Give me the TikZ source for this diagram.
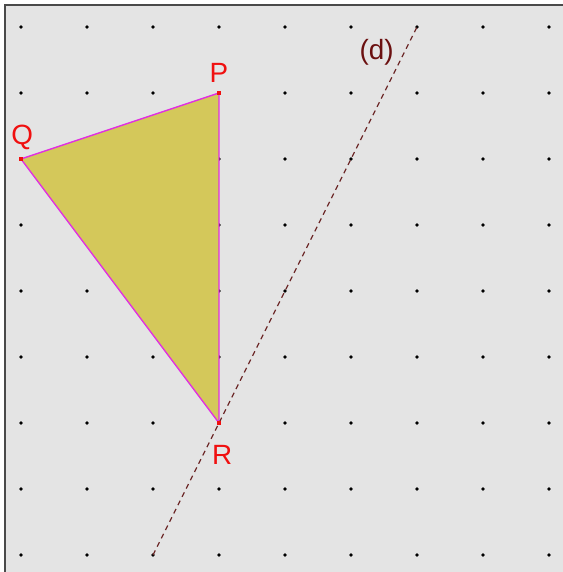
\documentclass[tikz,border=0pt]{standalone}
\usepackage{fontspec}
\setmainfont{Liberation Sans}
\usepackage{xcolor}
\definecolor{panel-bg}{HTML}{E4E4E4}
\definecolor{frame-gray}{HTML}{4A4A4A}
\definecolor{tri-fill}{HTML}{D4C85A}
\definecolor{tri-edge}{HTML}{E030E0}
\definecolor{line-d}{HTML}{6E2A2A}
\definecolor{lbl-red}{HTML}{F01010}
\definecolor{lbl-d}{HTML}{6B1010}

\begin{document}
\begin{tikzpicture}[every node/.style={font=\fontsize{12}{14}\selectfont}]
    % page and panel
    \useasboundingbox (-0.318, -0.258) rectangle (8.212, 8.409);
    \fill[white] (-0.318, -0.258) rectangle (8.212, 8.409);
    \fill[panel-bg] (-0.242, -0.258) rectangle (8.212, 8.333);
    \draw[frame-gray, line width=0.9pt] (-0.242, -0.258) -- (-0.242, 8.333) -- (8.212, 8.333);
    % grid dots
    \foreach \i in {0,...,8}
      \foreach \j in {0,...,8}
        \fill[black] (\i, \j) circle (0.028);
    % triangle PQR
    \coordinate (P) at (3, 7);
    \coordinate (Q) at (0, 6);
    \coordinate (R) at (3, 2);
    \fill[tri-fill] (P) -- (Q) -- (R) -- cycle;
    \draw[tri-edge, line width=0.6pt] (P) -- (Q) -- (R) -- cycle;
    % line (d)
    \coordinate (d1) at (2, 0);
    \coordinate (d2) at (6, 8);
    \draw[line-d, line width=0.55pt, dash pattern=on 2.2pt off 1.8pt] (d1) -- (d2);
    \node[fill=lbl-red, inner sep=0pt, minimum size=2pt] (Pmark) at (P) {};
    \node[fill=lbl-red, inner sep=0pt, minimum size=2pt] (Qmark) at (Q) {};
    \node[fill=lbl-red, inner sep=0pt, minimum size=2pt] (Rmark) at (R) {};
    % labels
    \node[text=lbl-red] (Plbl) at (3.0, 7.31) {P};
    \node[text=lbl-red] (Qlbl) at (0.02, 6.32) {Q};
    \node[text=lbl-red] (Rlbl) at (3.05, 1.52) {R};
    \node[text=lbl-d] (dlbl) at (5.39, 7.62) {(d)};
  \end{tikzpicture}
\end{document}
